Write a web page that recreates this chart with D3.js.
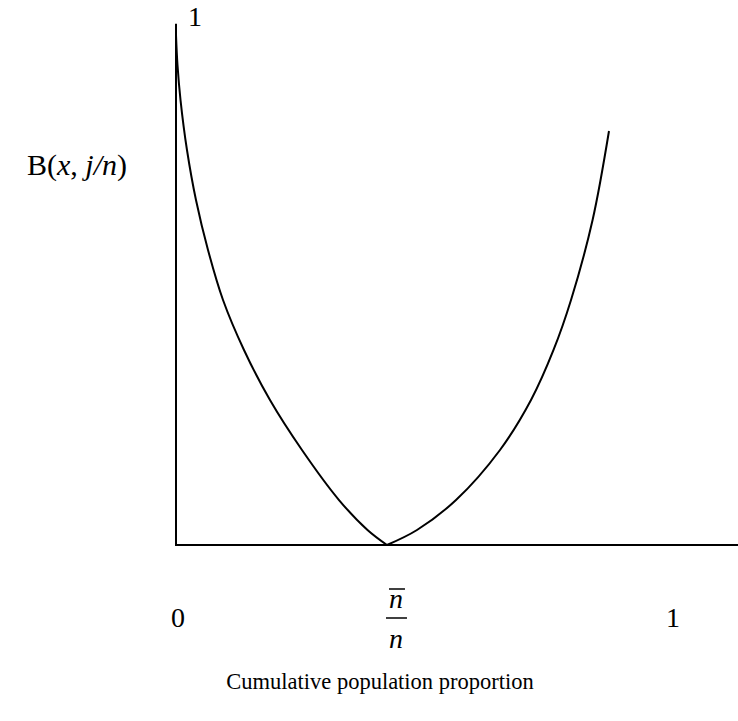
<html lang="en">
  <head>
    <meta charset="UTF-8" />
    <title>Document</title>
    <script src="https://cdn.jsdelivr.net/npm/d3@7"></script>
  </head>
  <body style="margin:0">
    <script>
        // curve: [x, B] pairs
        let leftBranch = [
            [0.0000, 1.0000], [0.0030, 0.9412], [0.0091, 0.8725], [0.0221, 0.7745],
            [0.0402, 0.6765], [0.0644, 0.5784], [0.0946, 0.4804], [0.1368, 0.3824],
            [0.1891, 0.2843], [0.2535, 0.1863], [0.3280, 0.0882], [0.3853, 0.0294],
            [0.4245, 0.0000]
        ];
        let rightBranch = [
            [0.4245, 0.0000], [0.4849, 0.0294], [0.5634, 0.0882], [0.6519, 0.1863],
            [0.7143, 0.2843], [0.7596, 0.3824], [0.7948, 0.4804], [0.8382, 0.6373],
            [0.8712, 0.8118]
        ];
        let xTickValues = [0, 1];
        let xTickLabels = ["0", "1"];
        let yTickValues = [1];
        let yTickLabels = ["1"];
        let minPoint = 0.4245;

        let width = 738;
        let height = 721;
        let serif = "Liberation Serif";
        let svg = d3.select("body")
            .append("svg")
            .attr("width", width)
            .attr("height", height);

        let x = d3.scaleLinear().domain([0, 1]).range([176, 673]);
        let y = d3.scaleLinear().domain([0, 1]).range([545, 35]);

        // axes
        svg.append("line")
            .attr("x1", x(0)).attr("y1", y(0))
            .attr("x2", x(0)).attr("y2", y(1.022))
            .attr("stroke", "#000").attr("stroke-width", 2);
        svg.append("line")
            .attr("x1", x(0) - 1).attr("y1", y(0))
            .attr("x2", width).attr("y2", y(0))
            .attr("stroke", "#000").attr("stroke-width", 2);

        let line = d3.line()
            .x(d => x(d[0]))
            .y(d => y(d[1]))
            .curve(d3.curveCatmullRom.alpha(0.5));

        svg.selectAll("path.branch")
            .data([leftBranch, rightBranch])
            .enter()
            .append("path")
            .attr("class", "branch")
            .attr("d", line)
            .attr("fill", "none")
            .attr("stroke", "#000")
            .attr("stroke-width", 2);

        // tick labels
        svg.selectAll("text.xtick")
            .data(xTickValues)
            .enter()
            .append("text")
            .attr("class", "xtick")
            .attr("x", (d, i) => x(d) + (i == 0 ? 2 : 0))
            .attr("y", 627)
            .attr("text-anchor", "middle")
            .style("font-family", serif)
            .style("font-size", "28px")
            .text((d, i) => xTickLabels[i]);

        svg.selectAll("text.ytick")
            .data(yTickValues)
            .enter()
            .append("text")
            .attr("class", "ytick")
            .attr("x", x(0) + 12)
            .attr("y", d => y(d) - 9)
            .style("font-family", serif)
            .style("font-size", "28px")
            .text((d, i) => yTickLabels[i]);

        // n-bar over n
        let fx = x(minPoint) + 9;
        svg.append("text")
            .attr("x", fx).attr("y", 608)
            .attr("text-anchor", "middle")
            .style("font-family", serif)
            .style("font-size", "28px").style("font-style", "italic")
            .text("n");
        svg.append("line")
            .attr("x1", fx - 7).attr("x2", fx + 9)
            .attr("y1", 589).attr("y2", 589)
            .attr("stroke", "#000").attr("stroke-width", 1.5);
        svg.append("line")
            .attr("x1", fx - 10).attr("x2", fx + 11)
            .attr("y1", 618).attr("y2", 618)
            .attr("stroke", "#000").attr("stroke-width", 1.5);
        svg.append("text")
            .attr("x", fx).attr("y", 648)
            .attr("text-anchor", "middle")
            .style("font-family", serif)
            .style("font-size", "28px").style("font-style", "italic")
            .text("n");

        // y label
        let yl = svg.append("text")
            .attr("x", 27).attr("y", 175)
            .style("font-family", serif)
            .style("font-size", "30px");
        yl.append("tspan").text("B(");
        yl.append("tspan").style("font-style", "italic").text("x");
        yl.append("tspan").text(", ");
        yl.append("tspan").style("font-style", "italic").text("j/n");
        yl.append("tspan").text(")");

        // x label
        svg.append("text")
            .attr("x", 380).attr("y", 689)
            .attr("text-anchor", "middle")
            .style("font-family", serif)
            .style("font-size", "22.5px")
            .text("Cumulative population proportion");
    </script>
  </body>
</html>
